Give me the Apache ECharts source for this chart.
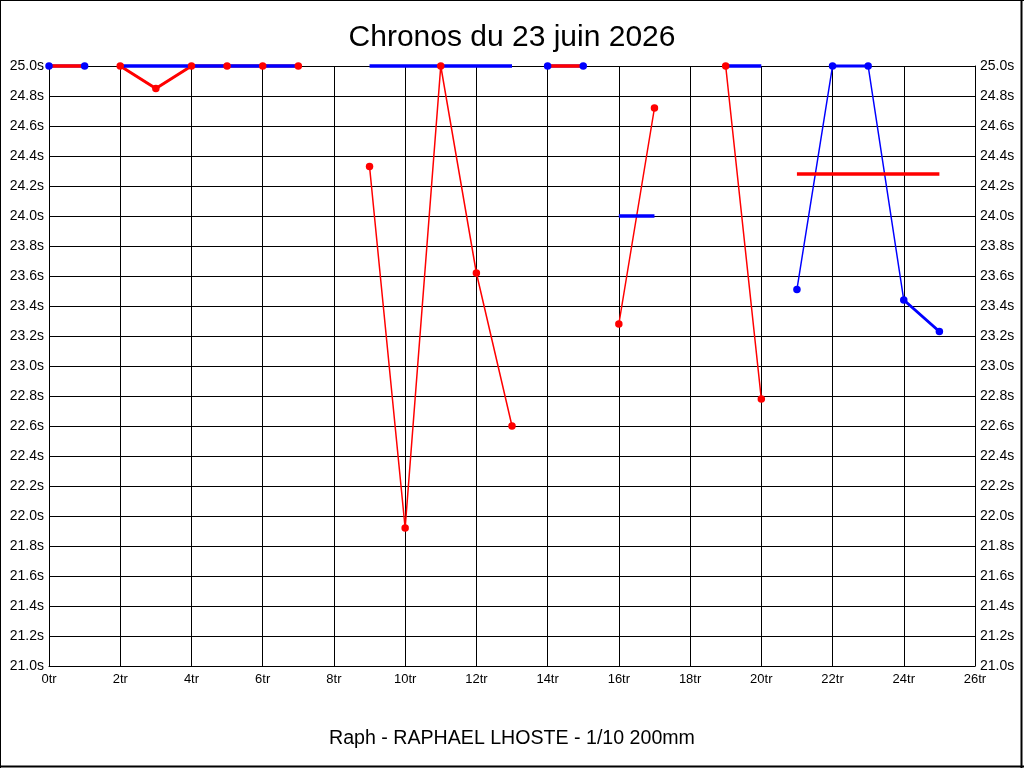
<!DOCTYPE html>
<html>
<head>
<meta charset="utf-8">
<script src="https://cdn.jsdelivr.net/npm/echarts@6/dist/echarts.min.js"></script>
<style>
  html, body { margin: 0; padding: 0; background: #fff; }
  #main { width: 1024px; height: 768px; }
</style>
</head>
<body>
<div id="main"></div>
<script>
// tours 0..25, null = pas de valeur
var tours = [0,1,2,3,4,5,6,7,8,9,10,11,12,13,14,15,16,17,18,19,20,21,22,23,24,25];
var rougeTours = [null,null,25.0,24.85,25.0,25.0,25.0,25.0,null,24.33,21.92,25.0,23.62,22.6,null,null,23.28,24.72,null,25.0,22.78,null,null,null,null,null];
var bleuTours  = [25.0,25.0,null,null,null,null,null,null,null,null,null,null,null,null,25.0,25.0,null,null,null,null,null,23.51,25.0,25.0,23.44,23.23];
var rougeRef   = [25.0,25.0,null,null,null,null,null,null,null,null,null,null,null,null,25.0,25.0,null,null,null,null,null,24.28,24.28,24.28,24.28,24.28];
var bleuRef    = [null,null,25.0,25.0,25.0,25.0,25.0,25.0,null,25.0,25.0,25.0,25.0,25.0,null,null,24.0,24.0,null,25.0,25.0,null,null,null,null,null];

var titre = 'Chronos du 23 juin 2026';
var sousTitre = 'Raph - RAPHAEL LHOSTE - 1/10 200mm';

function paires(vals) {
    var out = [];
    for (var i = 0; i < tours.length; i++) {
        out.push([tours[i], vals[i] == null ? '-' : vals[i]]);
    }
    return out;
}

// le trait d'origine parait plus epais sur les segments presque plats
function segmentsPlats(vals) {
    var out = [];
    for (var i = 0; i < tours.length - 1; i++) {
        if (vals[i] == null || vals[i + 1] == null) continue;
        if (Math.abs(vals[i + 1] - vals[i]) <= 0.3) {
            out.push([tours[i], vals[i]], [tours[i + 1], vals[i + 1]], [tours[i + 1], '-']);
        }
    }
    return out;
}

function points(vals) {
    return paires(vals).filter(function (p) { return p[1] !== '-'; });
}

var police = '"Liberation Sans", Arial, sans-serif';
var axeY = {
    type: 'value',
    min: 21,
    max: 25,
    interval: 0.2,
    axisLine: {show: true, lineStyle: {color: '#000', width: 1}},
    axisTick: {show: false},
    axisLabel: {
        color: '#000',
        fontSize: 14,
        fontFamily: police,
        margin: 5,
        formatter: function (v) { return v.toFixed(1) + 's'; }
    }
};

function ligne(nom, data, couleur, epaisseur, z) {
    return {
        name: nom, type: 'line', z: z, data: data, showSymbol: false, clip: false,
        lineStyle: {color: couleur, width: epaisseur}, itemStyle: {color: couleur}
    };
}

var myChart = echarts.init(document.getElementById('main'));
myChart.setOption({
    animation: false,
    backgroundColor: '#fff',
    title: [
        {
            text: titre,
            left: 'center',
            top: 18,
            textStyle: {fontSize: 30, fontWeight: 'normal', color: '#000', fontFamily: police}
        },
        {
            text: sousTitre,
            left: 'center',
            top: 724,
            textStyle: {fontSize: 19.6, fontWeight: 'normal', color: '#000', fontFamily: police}
        }
    ],
    grid: {left: 49, right: 49, top: 66, bottom: 102, containLabel: false},
    xAxis: {
        type: 'value',
        min: 0,
        max: 26,
        interval: 2,
        axisLine: {show: true, onZero: false, lineStyle: {color: '#000', width: 1}},
        axisTick: {show: false},
        splitLine: {show: true, lineStyle: {color: '#000', width: 1}},
        axisLabel: {
            color: '#000',
            fontSize: 13,
            fontFamily: police,
            margin: 7,
            formatter: '{value}tr'
        }
    },
    yAxis: [
        echarts.util.merge({position: 'left', splitLine: {show: true, lineStyle: {color: '#000', width: 1}}}, axeY, true),
        echarts.util.merge({position: 'right', splitLine: {show: false}}, axeY, true)
    ],
    graphic: [
        {type: 'line', shape: {x1: 0.5, y1: 0, x2: 0.5, y2: 768}, style: {stroke: '#000', lineWidth: 1}},
        {type: 'line', shape: {x1: 0, y1: 0.5, x2: 1024, y2: 0.5}, style: {stroke: '#000', lineWidth: 1}},
        {type: 'line', shape: {x1: 1021.5, y1: 0, x2: 1021.5, y2: 768}, style: {stroke: '#000', lineWidth: 2}},
        {type: 'line', shape: {x1: 0, y1: 766.5, x2: 1024, y2: 766.5}, style: {stroke: '#000', lineWidth: 2}}
    ],
    series: [
        ligne('rouge', paires(rougeTours), '#ff0000', 1.5, 2),
        ligne('bleu', paires(bleuTours), '#0000ff', 1.5, 2),
        ligne('rouge plat', segmentsPlats(rougeTours), '#ff0000', 3, 2),
        ligne('bleu plat', segmentsPlats(bleuTours), '#0000ff', 3, 2),
        ligne('rouge ref', paires(rougeRef), '#ff0000', 3.5, 3),
        ligne('bleu ref', paires(bleuRef), '#0000ff', 3.5, 3),
        {
            name: 'rouge pts', type: 'scatter', z: 4, data: points(rougeTours), clip: false,
            symbolSize: 7.5, itemStyle: {color: '#ff0000', opacity: 1}
        },
        {
            name: 'bleu pts', type: 'scatter', z: 4, data: points(bleuTours), clip: false,
            symbolSize: 7.5, itemStyle: {color: '#0000ff', opacity: 1}
        }
    ]
});
</script>
</body>
</html>
